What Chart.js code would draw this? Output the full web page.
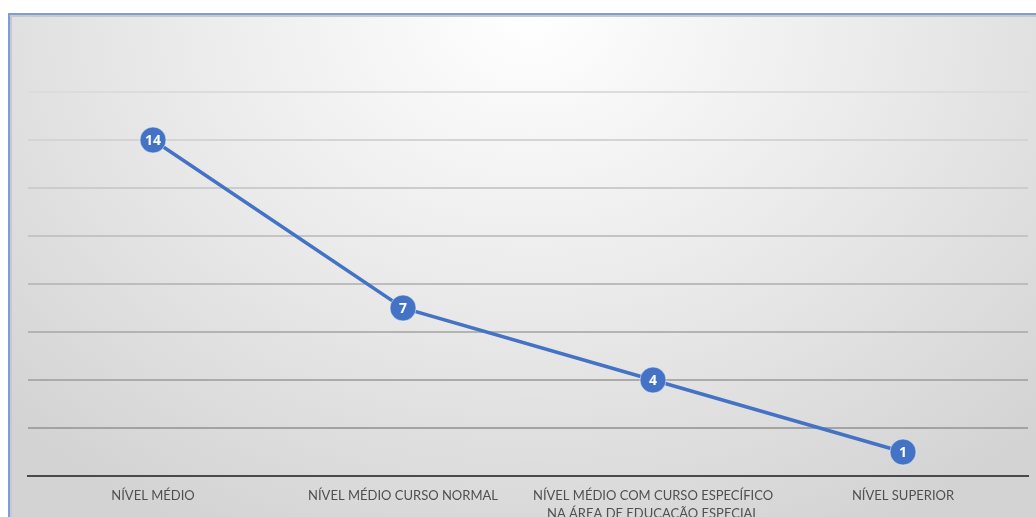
<!DOCTYPE html>
<html lang="pt">
<head>
<meta charset="utf-8">
<title>Formação</title>
<script src="https://cdn.jsdelivr.net/npm/chart.js@4/dist/chart.umd.min.js"></script>
<style>
   html, body { margin: 0; padding: 0; background: #ffffff; overflow: hidden; }
   #frame {
      position: absolute; left: 8px; top: 13px; width: 1040px; height: 506px;
      border-left: 2px solid #7c9ddd; border-top: 2px solid #7c9ddd;
      box-shadow: inset 2px 2px 0 #c9c9c9;
      background: radial-gradient(ellipse 70% 115% at 50% 0%, #ffffff 0%, #ececec 45%, #d3d3d3 100%);
   }
   #chart-container { position: absolute; left: 2px; top: 2px; width: 1030px; height: 502px; }
</style>
</head>
<body>
<div id="frame">
   <div id="chart-container"><canvas id="myChart" width="1030" height="502"></canvas></div>
</div>
<script>
const categorias = [
   "NÍVEL MÉDIO",
   "NÍVEL MÉDIO CURSO NORMAL",
   ["NÍVEL MÉDIO COM CURSO ESPECÍFICO", "NA ÁREA DE EDUCAÇÃO ESPECIAL"],
   "NÍVEL SUPERIOR"
];
const quantidades = [14, 7, 4, 1];
const yMax = 16, yStep = 2;

const azul = '#4472C4';

// escreve o valor no centro de cada marcador
const rotulosValor = {
   id: 'rotulosValor',
   afterDatasetsDraw(chart) {
      const ctx = chart.ctx;
      const meta = chart.getDatasetMeta(0);
      ctx.save();
      ctx.fillStyle = '#ffffff';
      ctx.font = 'bold 14px "Open Sans", sans-serif';
      ctx.textAlign = 'center';
      ctx.textBaseline = 'middle';
      meta.data.forEach((pt, i) => {
         ctx.fillText(String(quantidades[i]), pt.x, pt.y + 1);
      });
      ctx.restore();
   }
};

// linhas de grade mais escuras perto da base
function corGrade(c) {
   const v = c.tick.value;
   if (v === 0) return 'rgba(0,0,0,0)';
   const t = v / yMax;
   const g = Math.round(155 + t * 65);
   return `rgb(${g},${g},${g})`;
}

const ctx = document.getElementById('myChart').getContext('2d');
new Chart(ctx, {
   type: 'line',
   data: {
      labels: categorias,
      datasets: [{
         data: quantidades,
         borderColor: azul,
         backgroundColor: azul,
         borderWidth: 3.5,
         fill: false,
         tension: 0,
         pointRadius: 13,
         pointHoverRadius: 13,
         pointBackgroundColor: azul,
         pointBorderColor: 'rgba(255,255,255,0.5)',
         pointBorderWidth: 1
      }]
   },
   options: {
      responsive: false,
      animation: false,
      layout: { padding: { left: 16, right: 4, top: 75, bottom: 0 } },
      plugins: { legend: { display: false }, tooltip: { enabled: false } },
      scales: {
         x: {
            offset: true,
            grid: { display: false, drawTicks: false },
            border: { display: true, color: '#4a4a4a', width: 2 },
            ticks: {
               color: '#505050', padding: 10, maxRotation: 0, autoSkip: false,
               font: { family: 'Lato, "Open Sans", sans-serif', size: 13, lineHeight: 1.45 }
            },
            afterFit: s => { s.height = 43; s.paddingLeft = 0; s.paddingRight = 0; }
         },
         y: {
            min: 0, max: yMax,
            ticks: { display: false, stepSize: yStep },
            grid: { color: corGrade, lineWidth: 2, drawTicks: false },
            border: { display: false },
            afterFit: s => { s.width = 0; s.paddingTop = 0; s.paddingBottom = 0; }
         }
      }
   },
   plugins: [rotulosValor]
});
</script>
</body>
</html>
